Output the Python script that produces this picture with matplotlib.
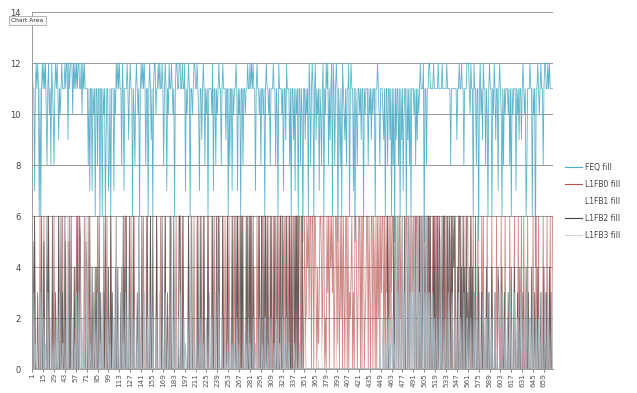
import matplotlib
matplotlib.use("Agg")
import matplotlib.pyplot as plt

# values per sample, one character each (hex: a=10, b=11, c=12), groups of ten
feq_rows = [
    "cbb7bcbcb6 b6bcbcbca8 bcab8cba8b cbcb9babcb bbcbcc9cbc",
    "ccacbcbcbc cbbcacbcbb bb8b7bb7ba b6bb8bb6bb 6bab69bb78",
    "b6bbb7bacb cbcbb8cb7b bbcb9bcbb6 ba8bcbab6b cbcbcb8bb6",
    "bcb9b6bcca bbcbcbbcb8 bcb7bacbbc bab6bccbbc cbbcbbc7ba",
    "bcb6bbabcc bbcba7bb9b cb8bab6bbb bac7bb8bab cbb8bcbbb9",
    "bb6b8bb7ba bbcb7bab6b b8bbabbcbb cbcbcbb7bc bbab8bbab6",
    "bcbbab8bbb cbb8ba6cbb bab7bb9cbb b8b6bb9b7b ab6bb8ba5b",
    "b9bab6cb8b cb6bc9bab7 ba8bc6bacb c8b9bc6cb8 bcb5ba8b6c",
    "ba9b8bbc6b cbb7b5ba8b bab9bb6bab bb8bab9bab b6bbcba8bb",
    "ba9b6bb8bb 9b6b8b5b9b b8b6b9b7ab b6b9b8b6bb bab8b9babc",
    "bbbc5bb8bb ccbbbbcbbb bbcbbbbcbb bbbcbbbb8b bbbbbb9bbc",
    "bbcbb8bbbc ccbacbb6cb b8bb5bcab9 cbb8ba6bcb b6bacb9bb7",
    "bcba6b8bab bbab8b6bab bb7bab9bb9 bcbab68bbb cbb6bab4bb",
    "cbabcbb8bc cbbcbcbbbb",
]
l1fb0_rows = [
    "0006000000 6000060000 0600003060 0000600006 0005000060",
    "0000040600 6000000600 0060000003 0000600000 0060006000",
    "0600000060 0000040006 6000000600 0600000030 0006000600",
    "0060000000 6000060000 0600000600 0000060006 6006000000",
    "0600000060 0060006000 6000006000 0600600006 6000060060",
    "0606000060 6000606006 0600060600 6060040006 0600066000",
    "6060006060 0606000606 6004606006 0606006060 6606606620",
    "6306462660 6606630403 6640660206 3606463603 6606306260",
    "6306606032 4603066403 6606066023 6606306606 4060626063",
    "6606063606 0636603620 6062606026 0660606063 6063660606",
    "0606300606 0600060600 6000600006 0606000600 6000600060",
    "0600060006 6000600600 0006000060 6000060000 0600000600",
    "0006000060 0000600000 6000060006 0060000600 0000600060",
    "0600000600 0060006006",
]
l1fb1_rows = [
    "0000000000 0000100000 0000000000 0001000000 0000000000",
    "0000000000 0000000000 0000010000 0000000000 0000000000",
    "0000000000 0000000000 0000000000 0000000000 0000000000",
    "0000000000 0000000000 0000000000 0000000000 0000000000",
    "0000000000 0000000000 0000000000 0000000000 0000000000",
    "0000000000 0000000000 0000000000 0000000000 0000000000",
    "0000000000 0000000000 0000000000 0000000000 0000000000",
    "0002000000 0000000010 0000200000 0000000000 0001000000",
    "0000000000 0000000000 0000000000 0000000000 0000000000",
    "0000000000 0000000000 0000000000 0000000000 0000000000",
    "0000000000 0000000000 0000000000 0000000000 0000000000",
    "0000000000 0000000000 0000000000 0000000000 0000000000",
    "0000000000 0000000000 0000000000 0000000000 0000000000",
    "0000000000 0000000000",
]
l1fb2_rows = [
    "0506000300 0060050006 0600006000 3000600603 0060000500",
    "6000400060 0650000005 4000600400 0404006030 0030600040",
    "0603000400 4000300604 0600060000 6000030600 0600000060",
    "0060060000 6000000600 0600300060 0060000006 6000600000",
    "0600060000 0006000600 0600006000 0060000600 6000060000",
    "0600000600 0060600060 6000006006 0600600000 0060060060",
    "6006000600 0600060006 0060000600 0600600060 6060000600",
    "0000000000 0000000000 0000000000 0000000000 0000000000",
    "0000000000 0000000000 0000000000 0000000000 0000000000",
    "0000000600 0000060000 0060000006 0000600000 0006000060",
    "0600060006 6060006060 0606500606 6000606506 0646000406",
    "6040604060 3040604030 6000400030 3000400300 0400030004",
    "3000400300 0030004000 4000300400 0300040030 0040003000",
    "4000300040 0300040300",
]
l1fb3_rows = [
    "2030100000 0300020100 3000200010 0200030001 1000206000",
    "0200010300 3000200016 0300010000 2000300010 0300000200",
    "1000200060 0200030100 3000200030 0200010600 1000300020",
    "0300020000 2000300010 0300010006 1000300020 0300020100",
    "2000600010 0200010200 1000200030 0200030000 3000200010",
    "0100200100 1002001000 0020010020 1000200100 0020001002",
    "2001000200 0100200010 0020100200 1000000100 0000100000",
    "0000000000 0000000000 0000000000 0000000000 0000000000",
    "0000000000 0000000000 0000000000 0000000000 0000000100",
    "0200100020 1030201060 3060006030 6000603060 3060006030",
    "6006030603 0300030200 2000203000 0200030002 3000200030",
    "0200030002 2000200030 0200030002 3000200030 0200030002",
    "2000300020 0200030000 3000200030 0200030002 2000300020",
    "0200030002 3000200030",
]
series_names = ["FEQ fill", "L1FB0 fill", "L1FB1 fill", "L1FB2 fill", "L1FB3 fill"]
series_rows = [feq_rows, l1fb0_rows, l1fb1_rows, l1fb2_rows, l1fb3_rows]
colors = ["#4bacc6", "#b85450", "#ffffff", "#454545", "#a8bac4"]
alphas = [0.9, 0.7, 1.0, 0.75, 0.9]


def decode(rows):
    return [int(c, 16) for c in "".join(rows).replace(" ", "")]


series = [decode(r) for r in series_rows]
n = min(len(s) for s in series)
x = list(range(1, n + 1))

fig = plt.figure(figsize=(6.37, 3.93), dpi=100)
ax = fig.add_axes([0.050, 0.061, 0.818, 0.908])

for name, vals, col, a in zip(series_names, series, colors, alphas):
    ax.plot(x, vals[:n], color=col, lw=0.6, alpha=a, label=name)

ax.set_xlim(0.5, n + 0.5)
ax.set_ylim(0, 14)
ax.set_yticks(range(0, 15, 2))
ax.set_xticks(range(1, n + 1, 14))
ax.tick_params(axis="x", labelsize=5.2, rotation=90, length=2, pad=1,
               colors="#555555", width=0.5)
ax.tick_params(axis="y", labelsize=6, length=0, pad=8, colors="#444444")
ax.grid(axis="y", color="#888888", lw=0.6)
ax.set_axisbelow(True)
for side in ["top", "right"]:
    ax.spines[side].set_visible(False)
for side in ["left", "bottom"]:
    ax.spines[side].set_color("#9a9a9a")
    ax.spines[side].set_linewidth(0.7)

leg = ax.legend(loc="center left", bbox_to_anchor=(1.01, 0.47), frameon=False,
                fontsize=5.5, handlelength=2.2, labelspacing=1.05,
                handletextpad=0.4, labelcolor="#444444")
for h in leg.get_lines():
    h.set_linewidth(0.8)
    h.set_alpha(1)
leg.get_lines()[4].set_color("#d4d4d4")

fig.text(0.018, 0.947, "Chart Area", fontsize=4.3, color="#333333", va="center",
         bbox=dict(boxstyle="square,pad=0.35", fc="#f8f8f8", ec="#999999", lw=0.5))

fig.savefig("out.png", dpi=100)
